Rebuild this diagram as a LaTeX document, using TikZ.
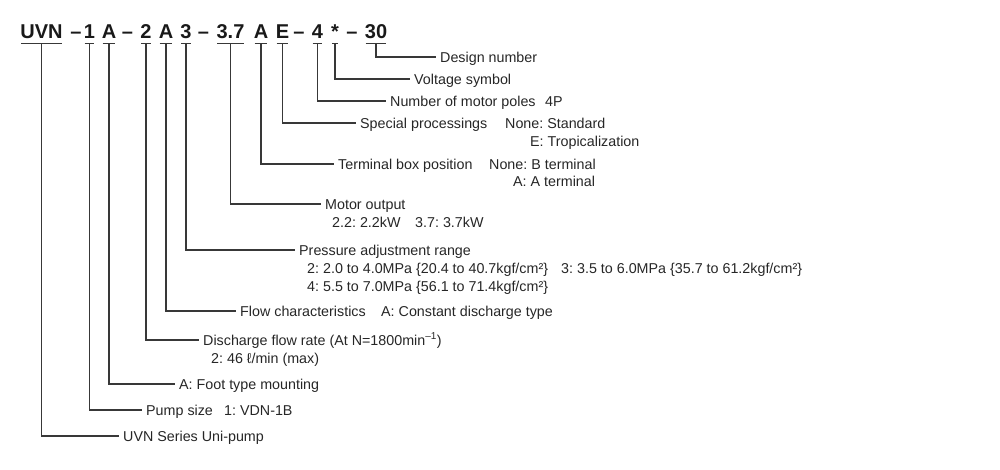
\documentclass[tikz,border=0pt]{standalone}
\usepackage{fontspec}
\setmainfont{Liberation Sans}
\frenchspacing
\begin{document}
\begin{tikzpicture}
[x=1pt,y=-1pt,
 code/.style={font=\fontsize{20}{20}\selectfont\bfseries,text=black!90,inner xsep=0pt,inner ysep=0pt,text depth=5pt,anchor=base},
 lbl/.style={font=\fontsize{14.3}{16}\selectfont,text=black!85,anchor=west,inner xsep=4pt,inner ysep=0pt,text height=10pt,text depth=0pt},
 txt/.style={lbl,inner xsep=0pt},
 wire/.style={draw=black!78,line width=1.1pt}]
\useasboundingbox (0,0) rectangle (1000,469);
% model code
\node[code] (uvn) at (41.5,38) {UVN};
\node[code] (d1) at (76,38) {–};
\node[code] (size) at (89.5,38) {1};
\node[code] (mount) at (109,38) {A};
\node[code] (d2) at (127.5,38) {–};
\node[code] (flow) at (146,38) {2};
\node[code] (char) at (166,38) {A};
\node[code] (range) at (186,38) {3};
\node[code] (d3) at (203.5,38) {–};
\node[code] (out) at (230.5,38) {3.7};
\node[code] (term) at (261,38) {A};
\node[code] (spec) at (282.5,38) {E};
\node[code] (d4) at (299,38) {–};
\node[code] (poles) at (317.5,38) {4};
\node[code] (volt) at (335,38) {*};
\node[code] (d5) at (352,38) {–};
\node[code] (design) at (376,38) {30};
\foreach \t in {uvn,size,mount,flow,char,range,out,term,spec,poles,volt,design}
  \draw[wire,shorten <=1pt,shorten >=1pt] (\t.south west) -- (\t.south east);
% labels
\node[lbl] (designl) at (436,57) {Design number};
\node[lbl] (voltl) at (410,79) {Voltage symbol};
\node[lbl] (polesl) at (386,101) {Number of motor poles};
\node[txt] (polesv) at (545,101) {4P};
\node[lbl] (specl) at (356,123) {Special processings};
\node[txt] (specv) at (505,123) {None: Standard};
\node[txt] (specw) at (530,141) {E: Tropicalization};
\node[lbl] (terml) at (334,164) {Terminal box position};
\node[txt] (termv) at (489,164) {None: B terminal};
\node[txt] (termw) at (513,181) {A: A terminal};
\node[lbl] (outl) at (321,204) {Motor output};
\node[txt] (outv) at (332,222) {2.2: 2.2kW};
\node[txt] (outw) at (415,222) {3.7: 3.7kW};
\node[lbl] (rangel) at (295,250) {Pressure adjustment range};
\node[txt] (rangev) at (307,268) {2: 2.0 to 4.0MPa \{20.4 to 40.7kgf/cm²\}};
\node[txt] (rangew) at (561,268) {3: 3.5 to 6.0MPa \{35.7 to 61.2kgf/cm²\}};
\node[txt] (rangex) at (307,286) {4: 5.5 to 7.0MPa \{56.1 to 71.4kgf/cm²\}};
\node[lbl] (charl) at (236,311) {Flow characteristics};
\node[txt] (charv) at (381,311) {A: Constant discharge type};
\node[lbl] (flowl) at (199,340) {Discharge flow rate (At N=1800min\textsuperscript{–1})};
\node[txt] (flowv) at (211,358) {2: 46 ℓ/min (max)};
\node[lbl] (mountl) at (175,384) {A: Foot type mounting};
\node[lbl] (sizel) at (142,410) {Pump size};
\node[txt] (sizev) at (224,410) {1: VDN-1B};
\node[lbl] (uvnl) at (119,436) {UVN Series Uni-pump};
% leaders
\foreach \t in {uvn,size,mount,flow,char,range,out,term,spec,poles,volt,design}
  \draw[wire] (\t.south) |- (\t l.west);
\end{tikzpicture}
\end{document}
